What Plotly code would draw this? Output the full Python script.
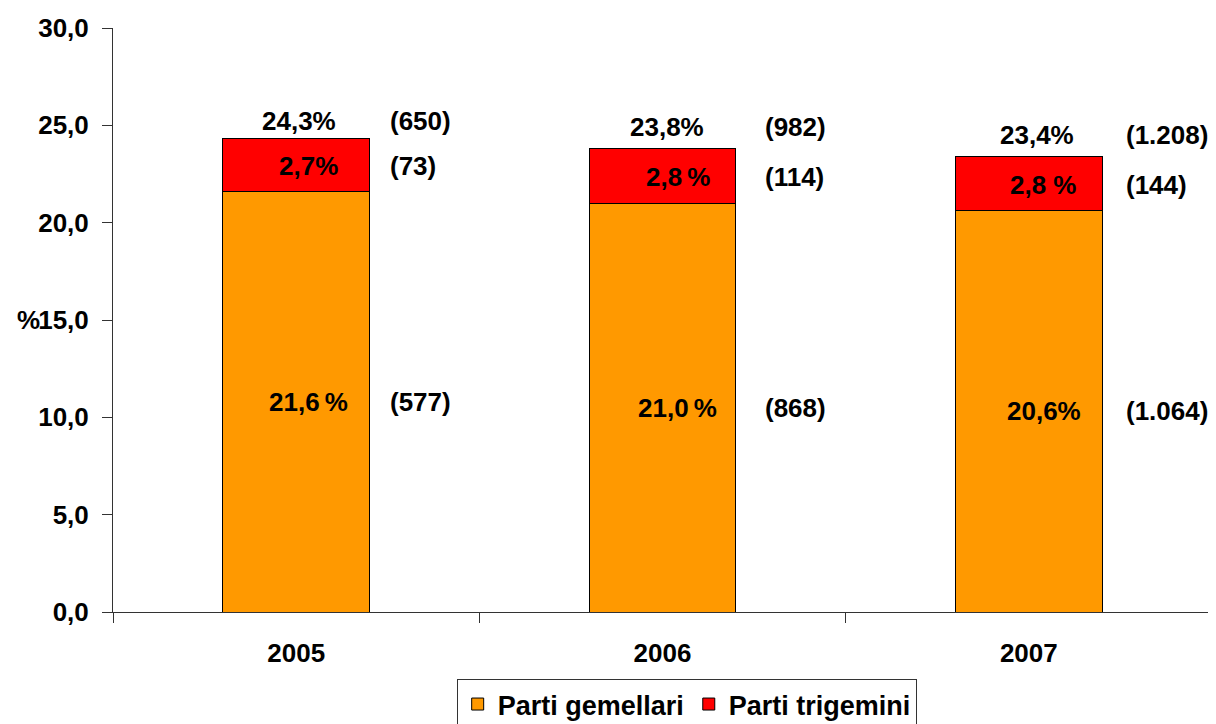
import plotly.graph_objects as go

# ---- data ----
years = ["2005", "2006", "2007"]
gemellari = [21.6, 21.0, 20.6]
trigemini = [2.7, 2.8, 2.8]
totale = [24.3, 23.8, 23.4]

gem_labels = ["21,6\u2009%", "21,0\u2009%", "20,6%"]
tri_labels = ["2,7%", "2,8\u2009%", "2,8 %"]
tot_labels = ["24,3%", "23,8%", "23,4%"]
n_gem = ["(577)", "(868)", "(1.064)"]
n_tri = ["(73)", "(114)", "(144)"]
n_tot = ["(650)", "(982)", "(1.208)"]

y_ticks = [0, 5, 10, 15, 20, 25, 30]

# ---- style ----
FONT = "Liberation Sans, Arial, sans-serif"
FS = 26
ORANGE = "#FF9900"
RED = "#FF0000"

count_xshift = [92, 100, 95]
pct_xshift = [12, 15, 15]
tot_xshift = [3, 4, 8]
tot_yshift = [18, 22, 21]

fig = go.Figure()
fig.add_trace(go.Bar(x=years, y=gemellari, name="Parti gemellari",
                     marker=dict(color=ORANGE, line=dict(color="black", width=1))))
fig.add_trace(go.Bar(x=years, y=trigemini, name="Parti trigemini",
                     marker=dict(color=RED, line=dict(color="black", width=1))))

font = dict(family=FONT, size=FS, color="black", weight="bold")
ann = []
for i, yr in enumerate(years):
    g = gemellari[i]
    t = trigemini[i]
    tot = totale[i]
    # in-bar percent labels (x given as category index)
    ann.append(dict(x=i, y=g / 2, text=gem_labels[i], xshift=pct_xshift[i], yshift=0,
                    xanchor="center", yanchor="middle"))
    ann.append(dict(x=i, y=g + t / 2, text=tri_labels[i], xshift=pct_xshift[i], yshift=-1,
                    xanchor="center", yanchor="middle"))
    ann.append(dict(x=i, y=tot, text=tot_labels[i], xshift=tot_xshift[i], yshift=tot_yshift[i],
                    xanchor="center", yanchor="middle"))
    # counts
    ann.append(dict(x=i, y=g / 2, text=n_gem[i], xshift=count_xshift[i], yshift=0,
                    xanchor="left", yanchor="middle"))
    ann.append(dict(x=i, y=g + t / 2, text=n_tri[i], xshift=count_xshift[i], yshift=-1,
                    xanchor="left", yanchor="middle"))
    ann.append(dict(x=i, y=tot, text=n_tot[i], xshift=count_xshift[i], yshift=tot_yshift[i],
                    xanchor="left", yanchor="middle"))
for a in ann:
    a.update(xref="x", yref="y", showarrow=False, font=font)

# y axis title "%" just left of the 15,0 tick label
ann.append(dict(x=0, y=15, xref="paper", yref="y", text="%", showarrow=False,
                xanchor="right", yanchor="middle", xshift=-71, font=font))

# the page adds an 8px body margin, so the figure is offset by 8px
fig.update_layout(
    width=1216, height=724,
    margin=dict(l=105, r=12, t=20, b=120, autoexpand=False),
    paper_bgcolor="white", plot_bgcolor="white",
    barmode="stack", bargap=0.6,
    separators=",.",
    font=dict(family=FONT, size=FS, color="black", weight="bold"),
    annotations=ann,
    showlegend=True,
    legend=dict(orientation="h", x=0.522, xanchor="center", y=-0.1147, yanchor="top",
                traceorder="normal", bgcolor="white", bordercolor="#333333", borderwidth=1,
                font=dict(family=FONT, size=27, color="black", weight="bold"),
                itemwidth=30),
)
fig.update_xaxes(type="category", range=[-0.5, 2.5], showline=True, linecolor="#333333", linewidth=1,
                 ticks="outside", tickson="boundaries", ticklen=10, tickcolor="#333333",
                 showgrid=False, zeroline=False, ticklabelstandoff=18, automargin=False)
fig.update_yaxes(range=[0, 30], tickvals=y_ticks, tickformat=".1f",
                 showline=True, linecolor="#333333", linewidth=1,
                 ticks="outside", ticklen=10, tickcolor="#333333",
                 showgrid=False, zeroline=False, ticklabelstandoff=8, automargin=False)

fig.write_html("out.html")
